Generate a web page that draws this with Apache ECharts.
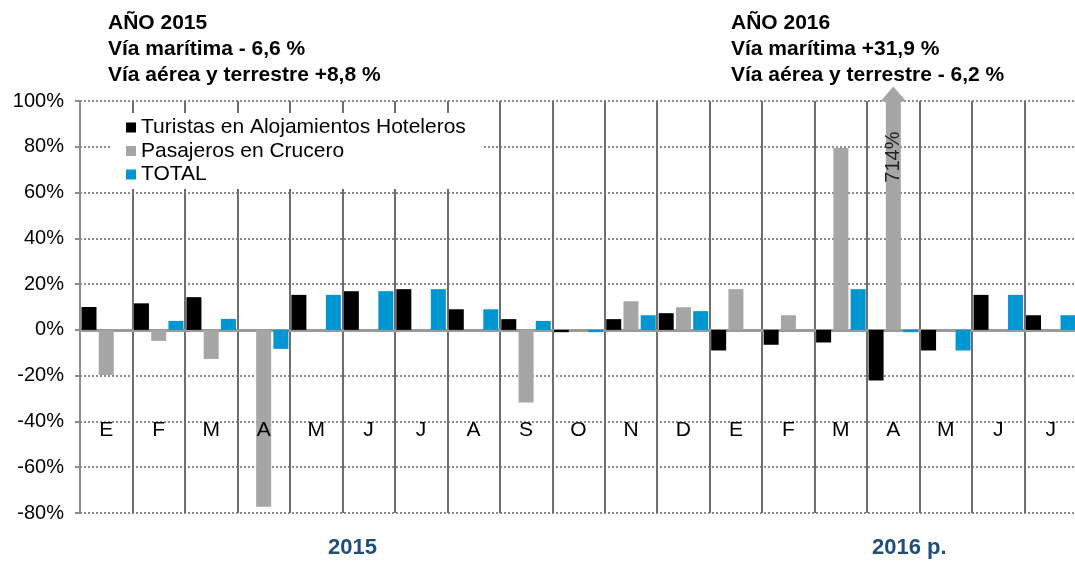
<!DOCTYPE html>
<html>
<head>
<meta charset="utf-8">
<script src="https://cdn.jsdelivr.net/npm/echarts@6/dist/echarts.min.js"></script>
<style>
  html, body { margin: 0; padding: 0; background: #fff; }
  #chart { width: 1075px; height: 563px; }
</style>
</head>
<body>
<div id="chart"></div>
<script>
// meses (E = enero ... J = julio), 2015 y 2016 p.
const months = ['E', 'F', 'M', 'A', 'M', 'J', 'J', 'A', 'S', 'O', 'N', 'D', 'E', 'F', 'M', 'A', 'M', 'J', 'J']
const hoteleros = [10, 11.6, 14.3, null, 15.3, 16.9, 17.8, 9.0, 4.7, -1, 4.7, 7.3, -9.0, -6.5, -5.5, -22.1, -9.0, 15.3, 6.4]
const crucero = [-19.7, -4.8, -12.7, -77.3, null, null, null, null, -31.7, null, 12.5, 9.9, 17.8, 6.4, 79.5, 714, null, null, null]
const total = [null, 3.9, 4.8, -8.3, 15.3, 16.9, 17.8, 9.0, 3.9, -1, 6.4, 8.2, null, null, 17.8, -1, -9.0, 15.3, 6.4]
const seriesNames = ['Turistas en Alojamientos Hoteleros', 'Pasajeros en Crucero', 'TOTAL']
const yearLabels = ['2015', '2016 p.']
const notes2015 = ['AÑO 2015', 'Vía marítima - 6,6 %', 'Vía aérea y terrestre +8,8 %']
const notes2016 = ['AÑO 2016', 'Vía marítima +31,9 %', 'Vía aérea y terrestre - 6,2 %']

const outlier = crucero.findIndex(v => v > 100)

const chart = echarts.init(document.getElementById('chart'))

const noteText = (lines, left) => lines.map((t, i) => ({
  type: 'text',
  left: left,
  top: 13 + i * 26,
  style: {
    text: t,
    fill: '#000',
    font: 'bold 21px "Liberation Sans", Arial, sans-serif'
  }
}))

const yearText = (t, left) => ({
  type: 'text',
  left: left,
  top: 537,
  style: {
    text: t,
    fill: '#1f4e79',
    font: 'bold 22px "Liberation Sans", sans-serif'
  }
})

const option = {
  animation: false,
  backgroundColor: '#fff',
  grid: {
    left: 80,
    top: 101,
    width: 997,
    height: 412,
    outerBoundsMode: 'none'
  },
  legend: {
    orient: 'vertical',
    left: 110,
    top: 113,
    padding: [4, 16, 4, 16],
    itemGap: 2.5,
    itemWidth: 10,
    itemHeight: 10,
    icon: 'rect',
    backgroundColor: '#fff',
    data: seriesNames,
    textStyle: {
      color: '#000',
      fontSize: 21,
      fontFamily: '"Liberation Sans", Arial, sans-serif'
    }
  },
  xAxis: [
    {
      type: 'category',
      data: months,
      axisLine: {
        onZero: true,
        lineStyle: { color: '#9a9a9a', width: 3 }
      },
      axisTick: { show: false },
      axisLabel: { show: false },
      splitLine: {
        show: true,
        interval: 0,
        lineStyle: { color: '#6e6e6e', width: 2 }
      }
    },
    {
      // etiquetas de meses a la altura de -40%
      type: 'category',
      data: months,
      position: 'bottom',
      offset: -93,
      z: 10,
      axisLine: { show: false, onZero: false },
      axisTick: { show: false },
      splitLine: { show: false },
      axisLabel: {
        interval: 0,
        margin: 0,
        color: '#000',
        fontSize: 21,
        fontFamily: '"Liberation Sans", Arial, sans-serif'
      }
    }
  ],
  yAxis: {
    type: 'value',
    min: -80,
    max: 100,
    interval: 20,
    axisLine: {
      show: true,
      lineStyle: { color: '#8c8c8c', width: 2 }
    },
    axisTick: {
      show: true,
      length: 5,
      lineStyle: { color: '#8c8c8c', width: 2 }
    },
    axisLabel: {
      formatter: '{value}%',
      margin: 16,
      color: '#000',
      fontSize: 20,
      fontFamily: '"Liberation Sans", Arial, sans-serif'
    },
    splitLine: {
      lineStyle: { color: '#8c8c8c', width: 2, type: [2, 2] }
    }
  },
  series: [
    {
      name: seriesNames[0],
      type: 'bar',
      data: hoteleros,
      barWidth: 15,
      barGap: '15%',
      itemStyle: { color: '#000000' }
    },
    {
      name: seriesNames[1],
      type: 'bar',
      data: crucero,
      barWidth: 15,
      barGap: '15%',
      itemStyle: { color: '#a6a6a6' },
      markPoint: {
        silent: true,
        data: [
          {
            coord: [outlier, 100],
            symbol: 'triangle',
            symbolSize: [26, 15],
            symbolOffset: [0, -7],
            itemStyle: { color: '#a6a6a6' },
            label: { show: false }
          },
          {
            coord: [outlier, 75.5],
            symbol: 'rect',
            symbolSize: 1,
            itemStyle: { color: 'rgba(0,0,0,0)' },
            label: {
              show: true,
              position: 'inside',
              formatter: crucero[outlier] + '%',
              rotate: 90,
              color: '#222',
              fontSize: 20,
              fontFamily: '"Liberation Sans", Arial, sans-serif'
            }
          }
        ]
      }
    },
    {
      name: seriesNames[2],
      type: 'bar',
      data: total,
      barWidth: 15,
      barGap: '15%',
      itemStyle: { color: '#0096d1' }
    }
  ],
  graphic: [
    ...noteText(notes2015, 108),
    ...noteText(notes2016, 731),
    yearText(yearLabels[0], 328),
    yearText(yearLabels[1], 872)
  ]
}

chart.setOption(option)
</script>
</body>
</html>
